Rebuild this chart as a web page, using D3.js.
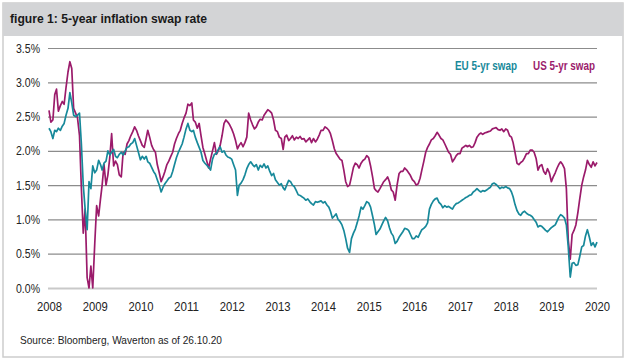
<!DOCTYPE html>
<html><head><meta charset="utf-8">
<script src="https://cdn.jsdelivr.net/npm/d3@7"></script>
<style>
body{margin:0;background:#fff}
svg{display:block}
text{font-family:"Liberation Sans",Arial,sans-serif}
</style>
</head><body>
<svg id="c" width="626" height="360"></svg>
<script>
const titleText = "figure 1: 5-year inflation swap rate";
const sourceText = "Source: Bloomberg, Waverton as of 26.10.20";
const seriesNames = ["EU 5-yr swap", "US 5-yr swap"];
const seriesColors = ["#17899a", "#9b1b6b"];
const yearLabels = ["2008","2009","2010","2011","2012","2013","2014","2015","2016","2017","2018","2019","2020"];
const yTicks = [0, 0.5, 1.0, 1.5, 2.0, 2.5, 3.0, 3.5];

// semi-monthly observations (1st and 16th of each month), Jan 2008 .. Jan 2020
const euSwap = [
  2.33,2.28,2.18,2.30,2.28,2.33,2.30,2.36,2.40,2.52,2.62,2.85,2.70,2.52,2.50,2.52,2.55,2.10,1.50,1.15,0.85,1.55,1.45,1.78,
  1.68,1.72,1.86,1.80,1.72,1.82,1.85,2.00,1.94,1.98,2.02,1.92,1.90,1.95,1.98,1.94,2.00,2.05,2.06,2.10,2.12,2.18,2.08,1.98,
  1.87,1.92,1.88,1.92,1.84,1.82,1.76,1.70,1.66,1.58,1.50,1.40,1.47,1.52,1.56,1.60,1.62,1.70,1.80,1.90,1.98,2.04,2.10,2.20,
  2.32,2.40,2.30,2.28,2.30,2.20,2.12,2.05,1.98,1.86,1.82,1.79,1.76,1.72,1.88,1.95,1.96,2.02,2.06,1.98,2.00,1.94,1.91,1.90,
  1.88,1.80,1.72,1.35,1.50,1.53,1.58,1.65,1.74,1.80,1.84,1.80,1.77,1.80,1.72,1.79,1.76,1.81,1.75,1.78,1.70,1.64,1.67,1.58,
  1.54,1.50,1.52,1.46,1.43,1.50,1.57,1.55,1.50,1.48,1.42,1.36,1.35,1.33,1.31,1.28,1.30,1.26,1.23,1.21,1.26,1.25,1.26,1.27,
  1.24,1.26,1.21,1.18,1.12,1.02,1.05,1.08,1.00,0.97,0.92,0.84,0.72,0.58,0.52,0.72,0.80,0.86,0.95,1.05,1.18,1.15,1.20,1.26,
  1.24,1.18,1.05,0.92,0.78,0.82,0.86,0.92,0.98,1.03,0.98,0.88,0.80,0.76,0.65,0.68,0.74,0.78,0.82,0.87,0.86,0.84,0.78,0.72,
  0.72,0.76,0.74,0.80,0.85,0.87,0.90,0.95,1.15,1.22,1.27,1.30,1.31,1.25,1.22,1.17,1.20,1.18,1.19,1.17,1.15,1.20,1.23,1.24,
  1.26,1.28,1.30,1.32,1.33,1.35,1.36,1.40,1.42,1.45,1.42,1.40,1.42,1.41,1.43,1.45,1.47,1.52,1.53,1.51,1.48,1.45,1.47,1.46,
  1.48,1.46,1.45,1.40,1.33,1.22,1.13,1.08,1.06,1.10,1.12,1.09,1.07,1.06,1.04,1.00,0.96,0.89,0.91,0.90,0.87,0.84,0.82,0.85,
  0.88,0.90,0.92,0.98,1.03,1.07,1.05,1.02,0.92,0.60,0.16,0.36,0.37,0.33,0.34,0.46,0.60,0.62,0.76,0.85,0.74,0.62,0.66,0.60,0.67
];
const usSwap = [
  2.59,2.42,2.45,2.82,2.90,2.58,2.66,2.72,2.68,2.92,3.15,3.30,3.20,2.62,2.55,2.48,2.22,1.45,0.80,1.15,0.15,0.00,0.32,0.00,
  0.65,1.20,1.05,1.30,1.50,1.80,1.50,1.65,1.90,2.25,1.78,1.85,1.80,1.65,1.62,1.98,1.95,2.10,2.15,2.22,2.28,2.35,2.30,2.22,
  2.15,2.08,2.05,2.18,2.30,2.20,2.08,2.02,1.98,1.80,1.68,1.55,1.62,1.70,1.80,1.85,1.92,1.98,2.10,2.18,2.25,2.30,2.40,2.48,
  2.55,2.68,2.66,2.70,2.45,2.42,2.33,2.40,2.22,2.05,1.95,1.85,1.75,1.88,2.00,2.12,1.95,2.00,2.08,2.22,2.40,2.45,2.42,2.38,
  2.32,2.25,2.15,2.03,2.08,2.12,2.06,2.12,2.20,2.55,2.45,2.38,2.32,2.35,2.42,2.46,2.45,2.52,2.56,2.60,2.58,2.55,2.45,2.30,
  2.28,2.20,2.18,2.02,2.20,2.23,2.15,2.18,2.22,2.16,2.20,2.18,2.21,2.17,2.18,2.13,2.16,2.19,2.12,2.18,2.13,2.17,2.23,2.30,
  2.30,2.35,2.33,2.30,2.25,2.15,2.03,1.96,1.92,1.88,1.86,1.72,1.55,1.48,1.50,1.62,1.76,1.82,1.80,1.75,1.82,1.86,1.88,1.93,
  1.90,1.78,1.62,1.45,1.42,1.40,1.45,1.50,1.55,1.58,1.62,1.55,1.43,1.40,1.28,1.50,1.67,1.70,1.70,1.75,1.72,1.68,1.64,1.58,
  1.55,1.50,1.52,1.60,1.72,1.84,1.98,2.05,2.10,2.16,2.18,2.22,2.27,2.23,2.18,2.16,2.10,2.04,1.98,1.95,1.84,1.88,1.93,1.96,
  1.96,2.04,2.06,2.08,2.06,2.08,2.05,2.06,2.12,2.20,2.24,2.26,2.24,2.26,2.27,2.28,2.29,2.32,2.33,2.34,2.31,2.30,2.32,2.28,
  2.32,2.30,2.22,2.20,2.12,1.98,1.82,1.80,1.83,1.85,1.90,1.96,1.96,2.01,2.01,1.98,1.89,1.72,1.78,1.80,1.70,1.66,1.74,1.68,
  1.55,1.62,1.68,1.75,1.80,1.84,1.80,1.74,1.45,0.70,0.42,0.78,0.84,0.92,1.10,1.30,1.50,1.62,1.72,1.86,1.80,1.76,1.84,1.78,1.83
];

const dates = d3.range(usSwap.length).map(k =>
  new Date(2008 + Math.floor(k / 24), Math.floor((k % 24) / 2), k % 2 ? 16 : 1));

const svg = d3.select("#c");
const plot = {left: 48, right: 597, top: 48, bottom: 288};

// squeeze text to a condensed width
function fit(sel, w) {
  sel.attr("textLength", w).attr("lengthAdjust", "spacingAndGlyphs");
}

// frame + title bar
svg.append("rect").attr("x", 3).attr("y", 3).attr("width", 620).attr("height", 354)
  .attr("fill", "#fff").attr("stroke", "#cdcdcd").attr("stroke-width", 1.5);
svg.append("rect").attr("x", 3).attr("y", 3).attr("width", 620).attr("height", 33)
  .attr("fill", "#d3d4d6");
svg.append("text").attr("x", 10).attr("y", 23)
  .attr("font-size", 13.5).attr("font-weight", "bold").attr("fill", "#1a1a1a")
  .text(titleText).call(fit, 197);

const x = d3.scaleTime()
  .domain([new Date(+yearLabels[0], 0, 1), new Date(+yearLabels[yearLabels.length - 1], 0, 1)])
  .range([49, plot.right]);
const y = d3.scaleLinear().domain([0, 3.5]).range([plot.bottom, plot.top]);

// y axis with gridlines
const yAxis = svg.append("g").attr("transform", `translate(${plot.left},0)`)
  .call(d3.axisLeft(y).tickValues(yTicks).tickSize(-(plot.right - plot.left)).tickPadding(8)
    .tickFormat(d => d.toFixed(1) + "%"));
yAxis.select(".domain").remove();
yAxis.selectAll(".tick line")
  .attr("stroke", d => d === 0 ? "#c9c9c9" : "#8c8c8c")
  .attr("stroke-width", d => d === 0 ? 2 : 1.2);
yAxis.selectAll(".tick text").attr("font-size", 12.5).attr("fill", "#222")
  .attr("font-family", "Liberation Sans, Arial, sans-serif").call(fit, 24);

// x axis
const xAxis = svg.append("g").attr("transform", `translate(0,${plot.bottom})`)
  .call(d3.axisBottom(x).tickValues(yearLabels.map(s => new Date(+s, 0, 1)))
    .tickSize(0).tickPadding(14).tickFormat(d3.timeFormat("%Y")));
xAxis.select(".domain").remove();
xAxis.selectAll(".tick text").attr("font-size", 12.5).attr("fill", "#222")
  .attr("font-family", "Liberation Sans, Arial, sans-serif").call(fit, 25);

// lines
const line = d3.line().x((d, i) => x(dates[i])).y(d => y(d));
svg.append("path").datum(usSwap).attr("d", line)
  .attr("fill", "none").attr("stroke", seriesColors[1]).attr("stroke-width", 1.7)
  .attr("stroke-linejoin", "round");
svg.append("path").datum(euSwap).attr("d", line)
  .attr("fill", "none").attr("stroke", seriesColors[0]).attr("stroke-width", 1.7)
  .attr("stroke-linejoin", "round");

// legend
svg.append("text").attr("x", 455).attr("y", 70)
  .attr("font-size", 12.5).attr("font-weight", "bold").attr("fill", seriesColors[0])
  .text(seriesNames[0]).call(fit, 62);
svg.append("text").attr("x", 533).attr("y", 70)
  .attr("font-size", 12.5).attr("font-weight", "bold").attr("fill", seriesColors[1])
  .text(seriesNames[1]).call(fit, 62);

// source
svg.append("text").attr("x", 20).attr("y", 344)
  .attr("font-size", 11).attr("fill", "#222").text(sourceText).call(fit, 202);
</script>
</body></html>
